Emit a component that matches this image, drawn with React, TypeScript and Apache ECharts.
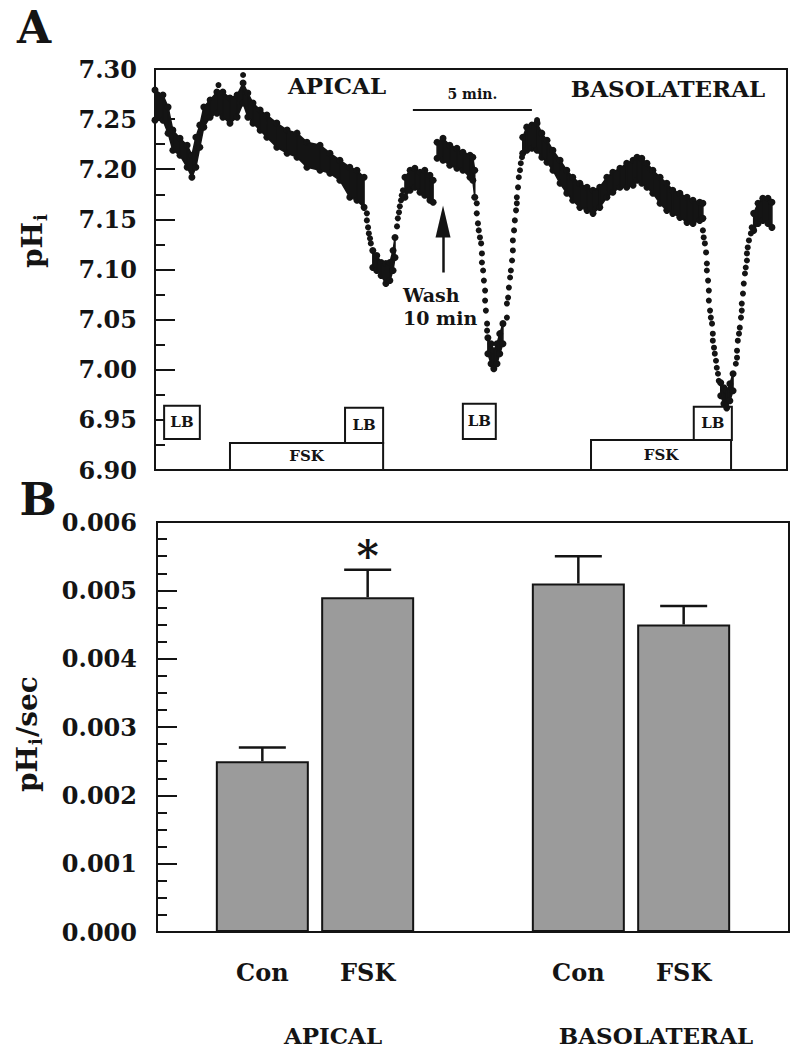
import React, { useEffect, useRef } from "react";
import * as echarts from "echarts";

// ---------- Panel A : pHi recording (time in s, pH) ----------
// dense parts of the recording: [time s, upper edge pH, lower edge pH]
const traceSeg1 = [
  [0, 7.279, 7.249], [20, 7.274, 7.249], [33, 7.262, 7.236], [45, 7.239, 7.219], [63, 7.231, 7.214],
  [81, 7.224, 7.202], [93, 7.214, 7.192], [103, 7.232, 7.202], [113, 7.244, 7.222], [123, 7.262, 7.242],
  [139, 7.269, 7.252], [156, 7.277, 7.256], [171, 7.277, 7.252], [189, 7.271, 7.246], [207, 7.274, 7.252],
  [222, 7.286, 7.266], [234, 7.276, 7.252], [247, 7.266, 7.246], [265, 7.259, 7.239], [282, 7.254, 7.232],
  [307, 7.246, 7.222], [333, 7.239, 7.216], [358, 7.236, 7.212], [383, 7.227, 7.202], [416, 7.224, 7.199],
  [441, 7.216, 7.196], [466, 7.209, 7.189], [491, 7.202, 7.172], [509, 7.199, 7.169], [527, 7.192, 7.162],
];
const traceSeg2 = [
  [549, 7.119, 7.102], [559, 7.114, 7.099], [570, 7.107, 7.094], [582, 7.106, 7.086], [592, 7.107, 7.089],
  [600, 7.119, 7.099], [605, 7.132, 7.112],
];
const traceSeg3 = [
  [630, 7.192, 7.172], [643, 7.199, 7.179], [655, 7.201, 7.182], [668, 7.197, 7.177], [680, 7.199, 7.174],
  [693, 7.194, 7.169], [701, 7.189, 7.167],
];
const traceSeg4 = [
  [711, 7.227, 7.211], [726, 7.231, 7.209], [743, 7.224, 7.204], [761, 7.221, 7.201], [776, 7.217, 7.199],
  [794, 7.214, 7.192], [801, 7.212, 7.189], [806, 7.199, 7.172],
];
const traceSeg5 = [
  [839, 7.032, 7.016], [847, 7.026, 7.006], [854, 7.019, 7.001], [862, 7.026, 7.006], [869, 7.036, 7.016],
  [877, 7.046, 7.026],
];
const traceSeg6 = [
  [927, 7.232, 7.216], [937, 7.242, 7.219], [950, 7.244, 7.221], [963, 7.246, 7.219], [975, 7.236, 7.212],
  [988, 7.229, 7.207], [1003, 7.219, 7.199], [1021, 7.209, 7.186], [1038, 7.199, 7.176], [1053, 7.192, 7.169],
  [1071, 7.186, 7.162], [1089, 7.182, 7.159], [1104, 7.179, 7.156], [1121, 7.182, 7.162], [1139, 7.192, 7.172],
  [1154, 7.197, 7.177], [1172, 7.201, 7.182], [1189, 7.206, 7.182], [1205, 7.209, 7.184], [1215, 7.212, 7.189],
  [1227, 7.211, 7.186], [1240, 7.206, 7.182], [1255, 7.199, 7.176], [1273, 7.192, 7.166], [1290, 7.186, 7.159],
  [1305, 7.179, 7.156], [1323, 7.176, 7.152], [1341, 7.172, 7.147], [1356, 7.169, 7.146], [1373, 7.167, 7.149],
  [1381, 7.166, 7.151],
];
const traceSeg7 = [
  [1426, 6.987, 6.974], [1434, 6.982, 6.966], [1441, 6.979, 6.962], [1449, 6.986, 6.969], [1457, 6.996, 6.979],
];
const traceSeg8 = [
  [1509, 7.156, 7.139], [1520, 7.166, 7.146], [1532, 7.171, 7.149], [1545, 7.171, 7.146], [1555, 7.167, 7.142],
];
// sparse single readings (fast pH changes) and outliers: [time s, pH]
const traceDots = [
  [160, 7.284], [222, 7.294], [963, 7.249],
  [534, 7.156], [534, 7.149], [537, 7.142], [539, 7.136], [542, 7.131], [544, 7.126],
  [610, 7.143], [612, 7.151], [615, 7.157], [617, 7.163], [620, 7.169], [622, 7.174], [625, 7.179],
  [811, 7.166], [811, 7.156], [814, 7.146], [816, 7.139], [819, 7.132], [822, 7.126], [824, 7.116], [824, 7.107],
  [827, 7.099], [829, 7.089], [832, 7.079], [832, 7.069], [834, 7.059], [837, 7.046], [837, 7.039],
  [887, 7.052], [887, 7.066], [890, 7.072], [892, 7.082], [895, 7.092], [897, 7.099], [900, 7.109], [902, 7.119],
  [902, 7.129], [905, 7.139], [907, 7.149], [910, 7.159], [912, 7.166], [912, 7.172], [915, 7.182], [917, 7.192],
  [920, 7.199], [922, 7.206], [925, 7.212],
  [1381, 7.139], [1383, 7.132], [1386, 7.126], [1389, 7.117], [1391, 7.106], [1391, 7.099], [1394, 7.089],
  [1396, 7.079], [1396, 7.069], [1399, 7.059], [1401, 7.052], [1404, 7.046], [1406, 7.036], [1406, 7.029],
  [1409, 7.022], [1411, 7.016], [1414, 7.009], [1416, 7.002], [1419, 6.996], [1421, 6.989],
  [1464, 7.006], [1467, 7.012], [1467, 7.019], [1469, 7.029], [1472, 7.036], [1474, 7.042], [1477, 7.052],
  [1479, 7.059], [1479, 7.066], [1482, 7.076], [1484, 7.086], [1487, 7.096], [1489, 7.102], [1492, 7.109],
  [1492, 7.116], [1494, 7.122], [1497, 7.129], [1502, 7.136], [1504, 7.142],
];
const traceSegments = [traceSeg1, traceSeg2, traceSeg3, traceSeg4, traceSeg5, traceSeg6, traceSeg7, traceSeg8];

// treatment periods drawn as boxes: name, start s, end s, box bottom pH, box top pH
const boxNames = ["LB", "LB", "LB", "LB", "FSK", "FSK"];
const boxStart = [23, 479, 776, 1358, 189, 1099];
const boxEnd = [113, 575, 859, 1454, 575, 1452];
const boxLow = [6.931, 6.927, 6.931, 6.93, 6.9, 6.9];
const boxHigh = [6.964, 6.962, 6.966, 6.963, 6.927, 6.93];

const timeMax = 1593;
const scaleBar = [650, 950]; // 5 min
const scaleBarPH = 7.259;
const washTime = 726;
const washArrowPH = [7.097, 7.148];
const pHTicks = { min: 6.9, max: 7.3, step: 0.05 };

// ---------- Panel B : rate of pHi recovery ----------
const barCategories = ["Con", "FSK", "Con", "FSK"];
const barPositions = [1, 2, 4, 5];
const barMeans = [0.0025, 0.0049, 0.0051, 0.0045];
const barSEM = [0.0002, 0.0004, 0.0004, 0.00027];
const significance = ["", "*", "", ""];
const groupLabels = ["APICAL", "BASOLATERAL"];
const rateTicks = { min: 0, max: 0.006, step: 0.001 };

const INK = "#141414";
const FONT = "DejaVu Serif";

function bandSeries(seg: number[][]) {
  return {
    type: "custom",
    xAxisIndex: 0,
    yAxisIndex: 0,
    z: 5,
    silent: true,
    data: seg,
    encode: { x: 0, y: [1, 2] },
    renderItem: (params: any, api: any) => {
      const i = params.dataIndex;
      const p = seg[i];
      const top = api.coord([p[0], p[1]]);
      const bot = api.coord([p[0], p[2]]);
      const children: any[] = [
        { type: "circle", shape: { cx: top[0], cy: top[1], r: 3.5 }, style: { fill: INK } },
        { type: "circle", shape: { cx: bot[0], cy: bot[1], r: 3.5 }, style: { fill: INK } },
      ];
      if (i < seg.length - 1) {
        const q = seg[i + 1];
        const t2 = api.coord([q[0], q[1]]);
        const b2 = api.coord([q[0], q[2]]);
        children.push({
          type: "polygon",
          shape: { points: [top, t2, b2, bot] },
          style: { fill: INK, stroke: INK, lineWidth: 1.5 },
        });
      }
      return { type: "group", children };
    },
  };
}

function rotatedLabel(x: number, y: number, parts: { t: string; size: number; dx: number; dy: number }[]) {
  return {
    type: "group",
    x,
    y,
    rotation: Math.PI / 2,
    children: parts.map((p) => ({
      type: "text",
      x: p.dx,
      y: p.dy,
      style: {
        text: p.t,
        fontSize: p.size,
        fontWeight: "bold",
        fontFamily: FONT,
        fill: INK,
        align: "left",
        verticalAlign: "middle",
      },
    })),
  };
}

function txt(x: number, y: number, text: string, size: number, align = "center") {
  return {
    type: "text",
    x,
    y,
    style: { text, fontSize: size, fontWeight: "bold", fontFamily: FONT, fill: INK, align, verticalAlign: "middle" },
  };
}

export default function App() {
  const ref = useRef<HTMLDivElement>(null);
  useEffect(() => {
    if (!ref.current) return;
    const chart = echarts.init(ref.current, undefined, { renderer: "svg" });
    const axisLabelStyle = { fontSize: 24, fontWeight: "bold", fontFamily: FONT, color: INK };
    const boxData = boxNames.map((n, i) => [
      { name: n, xAxis: boxStart[i], yAxis: boxLow[i] },
      { xAxis: boxEnd[i], yAxis: boxHigh[i] },
    ]);
    const option: any = {
      animation: false,
      backgroundColor: "#fff",
      textStyle: { fontFamily: FONT },
      grid: [
        { left: 155, top: 69, width: 632, height: 401, show: true, borderColor: INK, borderWidth: 2, backgroundColor: "transparent" },
        { left: 157, top: 522, width: 632, height: 410, show: true, borderColor: INK, borderWidth: 2, backgroundColor: "transparent" },
      ],
      xAxis: [
        {
          type: "value", gridIndex: 0, min: 0, max: timeMax,
          axisLine: { show: true, onZero: false, lineStyle: { color: INK, width: 2 } },
          axisTick: { show: false }, axisLabel: { show: false }, splitLine: { show: false },
        },
        {
          type: "value", gridIndex: 1, min: 0, max: 6, interval: 1,
          axisLine: { show: true, onZero: false, lineStyle: { color: INK, width: 2 } },
          axisTick: { show: false }, splitLine: { show: false },
          axisLabel: {
            ...axisLabelStyle,
            margin: 28,
            formatter: (v: number) => {
              const i = barPositions.indexOf(v);
              return i >= 0 ? barCategories[i] : "";
            },
          },
        },
      ],
      yAxis: [
        {
          type: "value", gridIndex: 0, min: pHTicks.min, max: pHTicks.max, interval: pHTicks.step,
          axisLine: { show: true, onZero: false, lineStyle: { color: INK, width: 2 } },
          axisTick: { show: true, inside: true, length: 20, lineStyle: { color: INK, width: 2 } },
          minorTick: { show: true, splitNumber: 2, length: 10, lineStyle: { color: INK, width: 2 } },
          splitLine: { show: false },
          axisLabel: { ...axisLabelStyle, margin: 18, formatter: (v: number) => v.toFixed(2) },
        },
        {
          type: "value", gridIndex: 1, min: rateTicks.min, max: rateTicks.max, interval: rateTicks.step,
          axisLine: { show: true, onZero: false, lineStyle: { color: INK, width: 2 } },
          axisTick: { show: true, inside: true, length: 20, lineStyle: { color: INK, width: 2 } },
          minorTick: { show: true, splitNumber: 4, length: 10, lineStyle: { color: INK, width: 2 } },
          splitLine: { show: false },
          axisLabel: { ...axisLabelStyle, margin: 20, formatter: (v: number) => v.toFixed(3) },
        },
      ],
      series: [
        {
          type: "scatter",
          xAxisIndex: 0,
          yAxisIndex: 0,
          z: 4,
          data: traceDots,
          symbol: "circle",
          symbolSize: 6,
          itemStyle: { color: INK, opacity: 1 },
          silent: true,
          markArea: {
            silent: true,
            itemStyle: { color: "#fff", borderColor: INK, borderWidth: 2, opacity: 1 },
            label: { show: true, position: "inside", fontSize: 15, fontWeight: "bold", fontFamily: FONT, color: INK },
            data: boxData,
          },
          markLine: {
            silent: true,
            symbol: "none",
            label: { show: false },
            lineStyle: { color: INK, width: 2, type: "solid" },
            data: [
              [
                {
                  coord: [scaleBar[0], scaleBarPH],
                  label: {
                    show: true, position: "middle", formatter: "5 min.", distance: 9,
                    fontSize: 14, fontWeight: "bold", fontFamily: FONT, color: INK,
                  },
                },
                { coord: [scaleBar[1], scaleBarPH] },
              ],
              [
                { coord: [washTime, washArrowPH[0]], lineStyle: { width: 2.5 } },
                { coord: [washTime, washArrowPH[1]], symbol: "triangle", symbolSize: [15, 32] },
              ],
            ],
          },
        },
        ...traceSegments.map((s) => bandSeries(s)),
        {
          type: "bar",
          xAxisIndex: 1,
          yAxisIndex: 1,
          barWidth: 93,
          z: 2,
          data: barPositions.map((x, i) => [x, barMeans[i]]),
          itemStyle: { color: "#9b9b9b", borderColor: INK, borderWidth: 2 },
          silent: true,
        },
        {
          type: "custom",
          xAxisIndex: 1,
          yAxisIndex: 1,
          z: 3,
          silent: true,
          data: barPositions.map((x, i) => [x, barMeans[i], barSEM[i]]),
          encode: { x: 0, y: 1 },
          renderItem: (params: any, api: any) => {
            const x = api.value(0);
            const m = api.value(1);
            const e = api.value(2);
            const base = api.coord([x, m]);
            const top = api.coord([x, m + e]);
            const children: any[] = [
              { type: "line", shape: { x1: base[0], y1: base[1], x2: top[0], y2: top[1] }, style: { stroke: INK, lineWidth: 2.5 } },
              { type: "line", shape: { x1: top[0] - 23.5, y1: top[1], x2: top[0] + 23.5, y2: top[1] }, style: { stroke: INK, lineWidth: 2.5 } },
            ];
            const sig = significance[params.dataIndex];
            if (sig) {
              children.push({
                type: "text",
                x: top[0],
                y: top[1] + 8,
                style: { text: sig, fontSize: 42, fontWeight: "bold", fontFamily: FONT, fill: INK, align: "center", verticalAlign: "bottom" },
              });
            }
            return { type: "group", children };
          },
        },
      ],
      graphic: [
        txt(34, 27, "A", 44),
        txt(38, 499, "B", 44),
        txt(337, 85, "APICAL", 23),
        txt(668, 88, "BASOLATERAL", 23),
        txt(403, 295, "Wash", 19, "left"),
        txt(403, 318, "10 min", 19, "left"),
        txt(333, 1035, groupLabels[0], 23),
        txt(656, 1035, groupLabels[1], 23),
        rotatedLabel(32, 268, [
          { t: "pH", size: 28, dx: 0, dy: 0 },
          { t: "i", size: 18, dx: 47, dy: 8 },
        ]),
        rotatedLabel(27, 792, [
          { t: "pH", size: 28, dx: 0, dy: 0 },
          { t: "i", size: 18, dx: 47, dy: 8 },
          { t: "/sec", size: 28, dx: 55, dy: 0 },
        ]),
      ],
    };
    chart.setOption(option);
    return () => chart.dispose();
  }, []);
  return (
    <div
      ref={ref}
      style={{ position: "absolute", left: 0, top: 0, width: 798, height: 1050, background: "#fff" }}
    />
  );
}
